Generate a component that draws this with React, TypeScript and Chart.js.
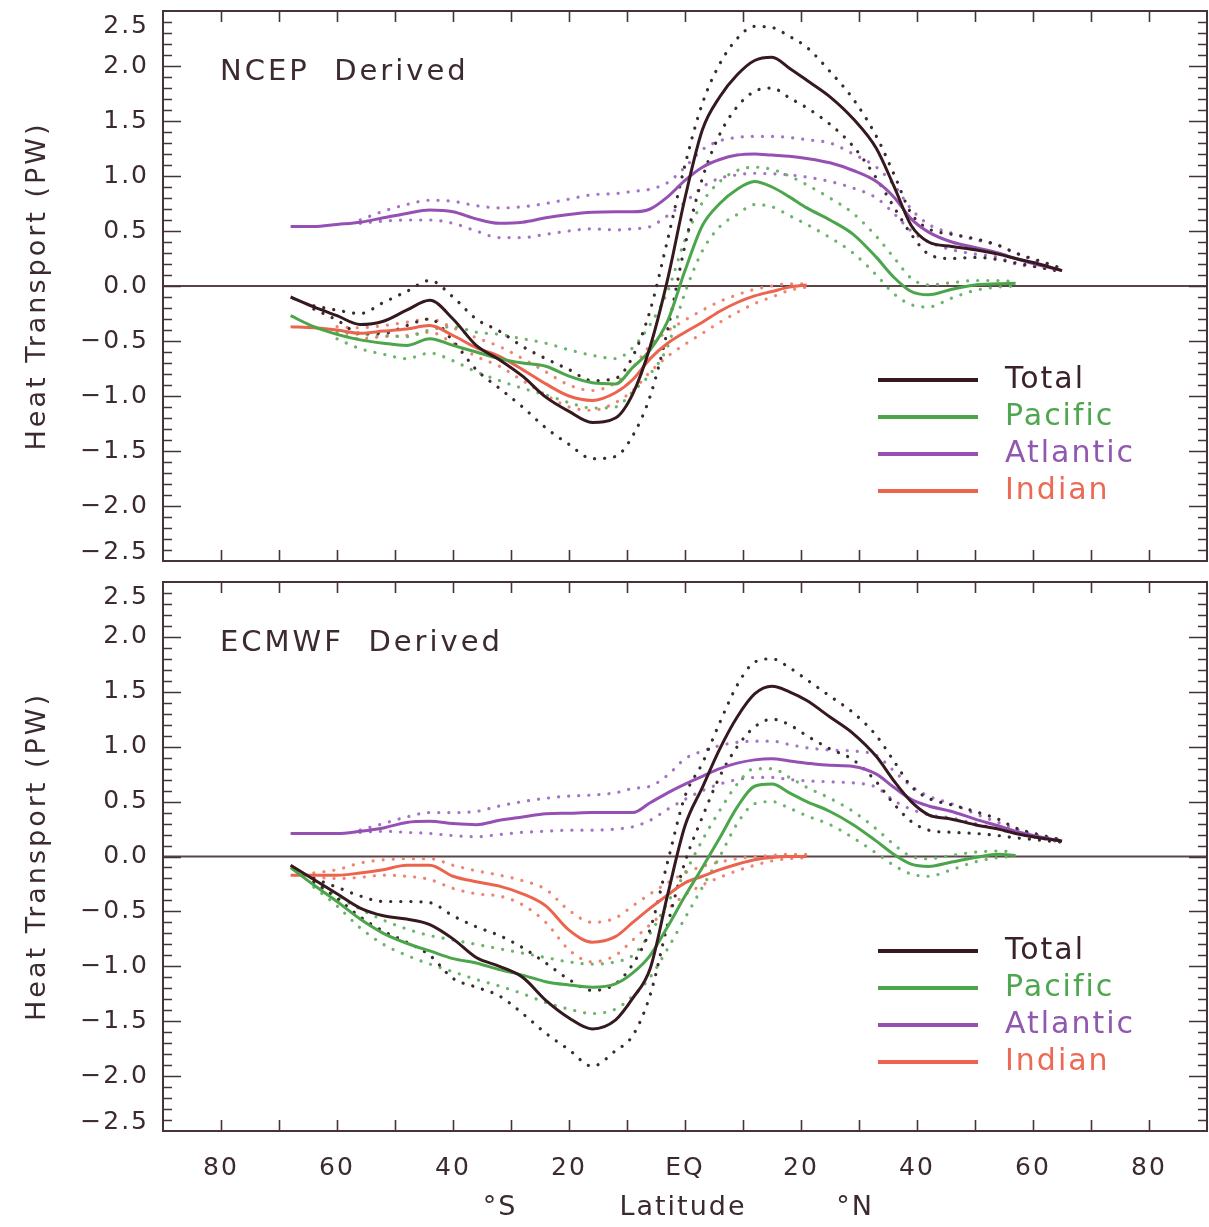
import { useEffect, useRef } from 'react';
import { Chart, registerables } from 'chart.js';

Chart.register(...registerables);

// ---------- data ----------
const LAT = [-68, -64, -60, -56, -52, -48, -44, -40, -36, -32, -28, -24, -20, -16, -12, -9, -6, -3, 0, 3, 6, 9, 12, 15, 18, 21, 25, 29, 33, 36, 39, 42, 46, 50, 54, 57, 61, 65];

// NCEP derived
const NCEP_TOTAL = [-0.10, -0.19, -0.27, -0.35, -0.32, -0.22, -0.13, -0.30, -0.54, -0.67, -0.82, -1.01, -1.14, -1.24, -1.20, -0.98, -0.55, 0.06, 0.80, 1.42, 1.72, 1.92, 2.05, 2.08, 1.98, 1.87, 1.72, 1.52, 1.25, 0.91, 0.55, 0.40, 0.36, 0.33, 0.29, 0.25, 0.20, 0.14];
const NCEP_TOTAL_HI = [null, -0.18, -0.22, -0.25, -0.15, -0.05, 0.05, -0.10, -0.30, -0.41, -0.55, -0.66, -0.76, -0.86, -0.84, -0.64, -0.22, 0.42, 1.10, 1.66, 2.02, 2.25, 2.36, 2.35, 2.27, 2.17, 1.95, 1.70, 1.36, 1.02, 0.66, 0.52, 0.47, 0.43, 0.37, 0.30, 0.23, 0.16];
const NCEP_TOTAL_LO = [null, -0.21, -0.31, -0.43, -0.43, -0.36, -0.30, -0.50, -0.76, -0.93, -1.10, -1.29, -1.44, -1.57, -1.55, -1.36, -1.00, -0.40, 0.37, 0.98, 1.38, 1.63, 1.77, 1.80, 1.71, 1.62, 1.47, 1.27, 0.98, 0.72, 0.47, 0.29, 0.25, 0.26, 0.24, 0.21, 0.17, 0.13];
const NCEP_PAC = [-0.27, -0.37, -0.44, -0.49, -0.52, -0.54, -0.48, -0.54, -0.60, -0.66, -0.70, -0.73, -0.82, -0.88, -0.89, -0.74, -0.58, -0.32, 0.14, 0.55, 0.75, 0.88, 0.95, 0.90, 0.81, 0.71, 0.60, 0.47, 0.26, 0.08, -0.05, -0.08, -0.03, 0.01, 0.02, 0.025, null, null];
const NCEP_PAC_HI = [null, null, -0.42, -0.44, -0.45, -0.46, -0.40, -0.37, -0.42, -0.44, -0.48, -0.52, -0.58, -0.63, -0.66, -0.56, -0.35, -0.05, 0.42, 0.76, 0.95, 1.05, 1.08, 1.06, 1.00, 0.92, 0.80, 0.66, 0.45, 0.26, 0.07, 0.01, 0.03, 0.05, 0.05, 0.04, null, null];
const NCEP_PAC_LO = [null, null, -0.48, -0.57, -0.62, -0.66, -0.61, -0.68, -0.78, -0.86, -0.93, -0.99, -1.06, -1.11, -1.10, -0.96, -0.80, -0.55, -0.06, 0.32, 0.54, 0.65, 0.74, 0.72, 0.64, 0.56, 0.44, 0.30, 0.10, -0.07, -0.17, -0.19, -0.11, -0.04, -0.01, 0.00, null, null];
const NCEP_ATL = [0.54, 0.54, 0.56, 0.58, 0.62, 0.66, 0.69, 0.675, 0.61, 0.57, 0.58, 0.62, 0.65, 0.67, 0.675, 0.675, 0.70, 0.81, 0.96, 1.08, 1.15, 1.19, 1.20, 1.19, 1.18, 1.16, 1.12, 1.05, 0.95, 0.81, 0.61, 0.49, 0.40, 0.35, 0.30, 0.25, 0.19, 0.14];
const NCEP_ATL_HI = [null, null, null, 0.60, 0.68, 0.74, 0.78, 0.77, 0.73, 0.71, 0.72, 0.75, 0.79, 0.83, 0.84, 0.86, 0.88, 0.94, 1.08, 1.24, 1.32, 1.35, 1.36, 1.36, 1.35, 1.33, 1.30, 1.20, 1.08, 0.92, 0.70, 0.56, 0.48, 0.42, 0.37, 0.30, 0.22, 0.15];
const NCEP_ATL_LO = [null, null, null, 0.57, 0.59, 0.60, 0.60, 0.57, 0.50, 0.44, 0.44, 0.47, 0.50, 0.52, 0.51, 0.52, 0.54, 0.64, 0.76, 0.90, 0.98, 1.01, 1.025, 1.02, 1.01, 0.99, 0.95, 0.89, 0.80, 0.66, 0.50, 0.40, 0.33, 0.29, 0.26, 0.20, 0.17, 0.13];
const NCEP_IND = [-0.37, -0.38, -0.40, -0.43, -0.41, -0.39, -0.36, -0.45, -0.56, -0.64, -0.76, -0.89, -1.00, -1.04, -0.97, -0.85, -0.66, -0.52, -0.42, -0.33, -0.23, -0.15, -0.09, -0.05, -0.01, 0.01, null, null, null, null, null, null, null, null, null, null, null, null];
const NCEP_IND_HI = [null, null, -0.37, -0.38, -0.36, -0.33, -0.30, -0.38, -0.47, -0.55, -0.66, -0.78, -0.90, -0.95, -0.88, -0.74, -0.54, -0.41, -0.31, -0.22, -0.14, -0.08, -0.03, 0.00, 0.02, 0.02, null, null, null, null, null, null, null, null, null, null, null, null];
const NCEP_IND_LO = [null, null, -0.43, -0.48, -0.46, -0.45, -0.42, -0.52, -0.64, -0.73, -0.86, -0.99, -1.10, -1.13, -1.06, -0.95, -0.78, -0.64, -0.53, -0.43, -0.33, -0.24, -0.16, -0.10, -0.04, -0.01, null, null, null, null, null, null, null, null, null, null, null, null];

// ECMWF derived
const ECMWF_TOTAL = [-0.08, -0.21, -0.34, -0.47, -0.54, -0.57, -0.62, -0.75, -0.92, -1.00, -1.10, -1.31, -1.47, -1.57, -1.49, -1.29, -1.02, -0.35, 0.28, 0.63, 0.98, 1.27, 1.48, 1.55, 1.50, 1.42, 1.27, 1.12, 0.91, 0.69, 0.50, 0.38, 0.34, 0.29, 0.25, 0.21, 0.17, 0.14];
const ECMWF_TOTAL_HI = [null, -0.20, -0.28, -0.36, -0.41, -0.41, -0.42, -0.54, -0.64, -0.72, -0.83, -0.97, -1.12, -1.22, -1.16, -0.98, -0.66, -0.05, 0.55, 0.85, 1.22, 1.56, 1.77, 1.80, 1.72, 1.61, 1.46, 1.31, 1.10, 0.87, 0.64, 0.53, 0.47, 0.41, 0.34, 0.26, 0.20, 0.15];
const ECMWF_TOTAL_LO = [null, -0.23, -0.38, -0.55, -0.68, -0.78, -0.90, -1.11, -1.19, -1.27, -1.43, -1.61, -1.76, -1.91, -1.77, -1.63, -1.26, -0.62, -0.05, 0.36, 0.73, 1.00, 1.18, 1.25, 1.20, 1.10, 0.98, 0.88, 0.68, 0.48, 0.32, 0.24, 0.22, 0.21, 0.19, 0.17, 0.15, 0.13];
const ECMWF_PAC = [-0.10, -0.26, -0.41, -0.57, -0.70, -0.79, -0.86, -0.93, -0.97, -1.03, -1.08, -1.14, -1.17, -1.19, -1.16, -1.06, -0.90, -0.64, -0.36, -0.10, 0.17, 0.45, 0.64, 0.66, 0.58, 0.50, 0.41, 0.29, 0.14, 0.02, -0.07, -0.09, -0.05, -0.01, 0.02, 0.01, null, null];
const ECMWF_PAC_HI = [null, -0.24, -0.36, -0.48, -0.58, -0.66, -0.72, -0.76, -0.80, -0.84, -0.88, -0.92, -0.96, -0.98, -0.96, -0.90, -0.70, -0.42, -0.15, 0.15, 0.42, 0.66, 0.80, 0.80, 0.72, 0.63, 0.53, 0.41, 0.25, 0.11, 0.00, -0.02, 0.01, 0.04, 0.05, 0.04, null, null];
const ECMWF_PAC_LO = [null, -0.28, -0.45, -0.65, -0.80, -0.90, -0.98, -1.05, -1.12, -1.18, -1.25, -1.33, -1.39, -1.43, -1.39, -1.27, -1.10, -0.84, -0.56, -0.28, 0.00, 0.30, 0.48, 0.50, 0.44, 0.37, 0.29, 0.17, 0.03, -0.08, -0.16, -0.18, -0.12, -0.05, -0.01, 0.00, null, null];
const ECMWF_ATL = [0.21, 0.21, 0.21, 0.23, 0.26, 0.31, 0.32, 0.30, 0.29, 0.33, 0.36, 0.39, 0.395, 0.40, 0.40, 0.40, 0.49, 0.58, 0.66, 0.73, 0.80, 0.85, 0.88, 0.89, 0.87, 0.85, 0.83, 0.82, 0.75, 0.63, 0.52, 0.46, 0.41, 0.34, 0.28, 0.23, 0.18, 0.14];
const ECMWF_ATL_HI = [null, null, null, 0.24, 0.30, 0.36, 0.40, 0.40, 0.41, 0.46, 0.50, 0.53, 0.55, 0.56, 0.58, 0.62, 0.64, 0.74, 0.89, 0.96, 1.01, 1.04, 1.05, 1.05, 1.02, 0.99, 0.97, 0.96, 0.92, 0.78, 0.64, 0.55, 0.48, 0.39, 0.31, 0.25, 0.19, 0.15];
const ECMWF_ATL_LO = [null, null, null, 0.22, 0.23, 0.22, 0.21, 0.19, 0.18, 0.20, 0.22, 0.23, 0.24, 0.24, 0.25, 0.27, 0.33, 0.43, 0.52, 0.60, 0.66, 0.70, 0.72, 0.72, 0.70, 0.69, 0.68, 0.67, 0.63, 0.51, 0.43, 0.38, 0.35, 0.30, 0.25, 0.21, 0.17, 0.13];
const ECMWF_IND = [-0.17, -0.17, -0.17, -0.15, -0.12, -0.08, -0.08, -0.18, -0.23, -0.27, -0.34, -0.45, -0.67, -0.78, -0.73, -0.60, -0.47, -0.35, -0.24, -0.18, -0.12, -0.07, -0.03, -0.01, 0.00, 0.00, null, null, null, null, null, null, null, null, null, null, null, null];
const ECMWF_IND_HI = [null, -0.15, -0.12, -0.06, -0.03, -0.02, -0.02, -0.08, -0.13, -0.17, -0.22, -0.30, -0.49, -0.60, -0.56, -0.45, -0.34, -0.24, -0.15, -0.09, -0.05, -0.02, 0.00, 0.01, 0.02, 0.02, null, null, null, null, null, null, null, null, null, null, null, null];
const ECMWF_IND_LO = [null, -0.19, -0.20, -0.19, -0.17, -0.18, -0.21, -0.29, -0.34, -0.36, -0.44, -0.60, -0.85, -0.96, -0.90, -0.76, -0.62, -0.48, -0.35, -0.26, -0.19, -0.13, -0.08, -0.04, -0.02, -0.01, null, null, null, null, null, null, null, null, null, null, null, null];

const SERIES_NAMES = ['Total', 'Pacific', 'Atlantic', 'Indian'];
const X_TICKS = [-80, -60, -40, -20, 0, 20, 40, 60, 80];
const X_TICK_LABELS = ['80', '60', '40', '20', 'EQ', '20', '40', '60', '80'];
const Y_TICKS = [-2.5, -2, -1.5, -1, -0.5, 0, 0.5, 1, 1.5, 2, 2.5];
const Y_TICK_LABELS = ['\u22122.5', '\u22122.0', '\u22121.5', '\u22121.0', '\u22120.5', '0.0', '0.5', '1.0', '1.5', '2.0', '2.5'];
const Y_TITLE = 'Heat Transport (PW)';
const X_TITLE_PARTS = ['\u00B0S', 'Latitude', '\u00B0N'];

// ---------- styles ----------
const FONT = "'DejaVu Sans', sans-serif";
const AXIS_COLOR = '#45323a';
const TEXT_COLOR = '#3b2a2e';
const LINE_COLORS = ['#35191e', '#4ba64b', '#9650b4', '#ec644e'];
const DOT_COLORS = ['#3a2b2e', '#6cb46c', '#a474c2', '#ee8572'];
const LEGEND_TEXT_COLORS = ['#3a2328', '#4ea64e', '#9158b0', '#ec6a55'];

type Arr = (number | null)[];
interface Panel {
  label: string;
  mean: Arr[];
  hi: Arr[];
  lo: Arr[];
}

const PANELS: Panel[] = [
  {
    label: 'NCEP  Derived',
    mean: [NCEP_TOTAL, NCEP_PAC, NCEP_ATL, NCEP_IND],
    hi: [NCEP_TOTAL_HI, NCEP_PAC_HI, NCEP_ATL_HI, NCEP_IND_HI],
    lo: [NCEP_TOTAL_LO, NCEP_PAC_LO, NCEP_ATL_LO, NCEP_IND_LO],
  },
  {
    label: 'ECMWF  Derived',
    mean: [ECMWF_TOTAL, ECMWF_PAC, ECMWF_ATL, ECMWF_IND],
    hi: [ECMWF_TOTAL_HI, ECMWF_PAC_HI, ECMWF_ATL_HI, ECMWF_IND_HI],
    lo: [ECMWF_TOTAL_LO, ECMWF_PAC_LO, ECMWF_ATL_LO, ECMWF_IND_LO],
  },
];

const toPoints = (arr: Arr) => LAT.map((x, k) => ({ x, y: arr[k] }));

function buildDatasets(p: Panel) {
  const ds: any[] = [];
  for (let i = 0; i < SERIES_NAMES.length; i++) {
    ds.push({
      label: SERIES_NAMES[i],
      data: toPoints(p.mean[i]),
      borderColor: LINE_COLORS[i],
      borderWidth: 3,
      pointRadius: 0,
      cubicInterpolationMode: 'monotone',
      spanGaps: false,
      order: 0,
    });
    for (const band of [p.hi[i], p.lo[i]]) {
      ds.push({
        label: SERIES_NAMES[i] + ' range',
        data: toPoints(band),
        borderColor: DOT_COLORS[i],
        borderWidth: 3.2,
        borderDash: [0.1, 10],
        borderCapStyle: 'round',
        pointRadius: 0,
        cubicInterpolationMode: 'monotone',
        spanGaps: false,
        order: 1,
      });
    }
  }
  return ds;
}

function makePlugin(p: Panel, showX: boolean) {
  return {
    id: 'panelDecor',
    beforeDraw(chart: any) {
      chart.ctx.letterSpacing = '2px';
      // IDL-style: the end labels of the value axis sit just inside the frame
      try {
        const ys = chart.scales.y;
        const items = ys.getLabelItems();
        if (items && !items.__shifted) {
          items.__shifted = true;
          ys.ticks.forEach((t: any, i: number) => {
            const it = items[i];
            if (!it || !it.options || !it.options.translation) return;
            if (t.value === 2.5) it.options.translation[1] += 15;
            if (t.value === -2.5) it.options.translation[1] -= 9;
          });
        }
      } catch (e) {
        /* ignore */
      }
    },
    beforeDatasetsDraw(chart: any) {
      const { ctx, chartArea: a, scales } = chart;
      const y0 = scales.y.getPixelForValue(0);
      ctx.save();
      ctx.letterSpacing = '0px';
      ctx.strokeStyle = '#5a4448';
      ctx.lineWidth = 2;
      ctx.beginPath();
      ctx.moveTo(a.left, y0);
      ctx.lineTo(a.right, y0);
      ctx.stroke();
      ctx.restore();
    },
    afterDraw(chart: any) {
      const { ctx, chartArea: a, scales } = chart;
      const xs = scales.x;
      const ys = scales.y;
      ctx.save();
      ctx.letterSpacing = '0px';
      ctx.strokeStyle = AXIS_COLOR;
      ctx.lineWidth = 1.6;
      ctx.beginPath();
      for (let k = -24; k <= 24; k++) {
        const py = Math.round(ys.getPixelForValue(k / 10)) + 0.5;
        const len = k % 5 === 0 ? 18 : 9;
        ctx.moveTo(a.left, py);
        ctx.lineTo(a.left + len, py);
        ctx.moveTo(a.right, py);
        ctx.lineTo(a.right - len, py);
      }
      for (let d = -80; d <= 80; d += 10) {
        const px = Math.round(xs.getPixelForValue(d)) + 0.5;
        ctx.moveTo(px, a.top);
        ctx.lineTo(px, a.top + 11);
        ctx.moveTo(px, a.bottom);
        ctx.lineTo(px, a.bottom - 11);
      }
      ctx.stroke();
      ctx.lineWidth = 2;
      ctx.strokeRect(a.left, a.top, a.right - a.left, a.bottom - a.top);

      // panel label
      ctx.fillStyle = TEXT_COLOR;
      ctx.font = `29px ${FONT}`;
      ctx.letterSpacing = '3px';
      ctx.textAlign = 'left';
      ctx.textBaseline = 'middle';
      ctx.fillText(p.label, 220, a.top + 61);

      // legend
      ctx.font = `30px ${FONT}`;
      ctx.letterSpacing = '2px';
      for (let i = 0; i < SERIES_NAMES.length; i++) {
        const ly = a.top + 369 + i * 37;
        ctx.strokeStyle = LINE_COLORS[i];
        ctx.lineWidth = 4;
        ctx.beginPath();
        ctx.moveTo(878, ly);
        ctx.lineTo(978, ly);
        ctx.stroke();
        ctx.fillStyle = LEGEND_TEXT_COLORS[i];
        ctx.fillText(SERIES_NAMES[i], 1005, ly);
      }

      // y title
      ctx.save();
      ctx.translate(38, (a.top + a.bottom) / 2);
      ctx.rotate(-Math.PI / 2);
      ctx.fillStyle = TEXT_COLOR;
      ctx.font = `27px ${FONT}`;
      ctx.letterSpacing = '3px';
      ctx.textAlign = 'center';
      ctx.textBaseline = 'middle';
      ctx.fillText(Y_TITLE, 0, 0);
      ctx.restore();

      if (showX) {
        ctx.fillStyle = TEXT_COLOR;
        ctx.font = `27px ${FONT}`;
        ctx.letterSpacing = '2px';
        ctx.textAlign = 'center';
        ctx.textBaseline = 'middle';
        const cx = [500, 683, 855];
        X_TITLE_PARTS.forEach((t, i) => ctx.fillText(t, cx[i], a.bottom + 77));
      }
      ctx.restore();
    },
  };
}

function makeConfig(p: Panel, showX: boolean): any {
  return {
    type: 'line',
    data: { datasets: buildDatasets(p) },
    options: {
      animation: false,
      responsive: false,
      maintainAspectRatio: false,
      layout: {
        padding: showX ? { top: 10, bottom: 0, left: 0, right: 2 } : { top: 11, bottom: 11, left: 0, right: 2 },
      },
      plugins: {
        legend: { display: false },
        tooltip: { enabled: false },
        title: { display: false },
      },
      elements: { point: { radius: 0 } },
      scales: {
        x: {
          type: 'linear',
          min: -90,
          max: 90,
          display: showX,
          afterBuildTicks: (s: any) => {
            s.ticks = X_TICKS.map((v) => ({ value: v }));
          },
          afterFit: (s: any) => {
            s.height = showX ? 96 : 0;
            s.paddingLeft = 0;
            s.paddingRight = 0;
          },
          grid: { display: false, drawTicks: false },
          border: { display: false },
          ticks: {
            autoSkip: false,
            maxRotation: 0,
            padding: 22,
            color: TEXT_COLOR,
            font: { family: FONT, size: 25 },
            callback: (_v: any, i: number) => X_TICK_LABELS[i],
          },
        },
        y: {
          type: 'linear',
          min: -2.5,
          max: 2.5,
          afterBuildTicks: (s: any) => {
            s.ticks = Y_TICKS.map((v) => ({ value: v }));
          },
          afterFit: (s: any) => {
            s.width = 163;
            s.paddingTop = 0;
            s.paddingBottom = 0;
          },
          grid: { display: false, drawTicks: false },
          border: { display: false },
          ticks: {
            padding: 14,
            color: TEXT_COLOR,
            font: { family: FONT, size: 25 },
            callback: (_v: any, i: number) => Y_TICK_LABELS[i],
          },
        },
      },
    },
    plugins: [makePlugin(p, showX)],
  };
}

function PanelChart({ panel, showX, height }: { panel: Panel; showX: boolean; height: number }) {
  const ref = useRef<HTMLCanvasElement | null>(null);
  useEffect(() => {
    if (!ref.current) return;
    const chart = new Chart(ref.current, makeConfig(panel, showX));
    return () => chart.destroy();
  }, [panel, showX]);
  return <canvas ref={ref} width={1209} height={height} style={{ display: 'block', width: 1209, height }} />;
}

export default function App() {
  return (
    <div style={{ position: 'absolute', left: 0, top: 0, width: 1209, height: 1227, background: '#ffffff' }}>
      <PanelChart panel={PANELS[0]} showX={false} height={572} />
      <PanelChart panel={PANELS[1]} showX={true} height={655} />
    </div>
  );
}
